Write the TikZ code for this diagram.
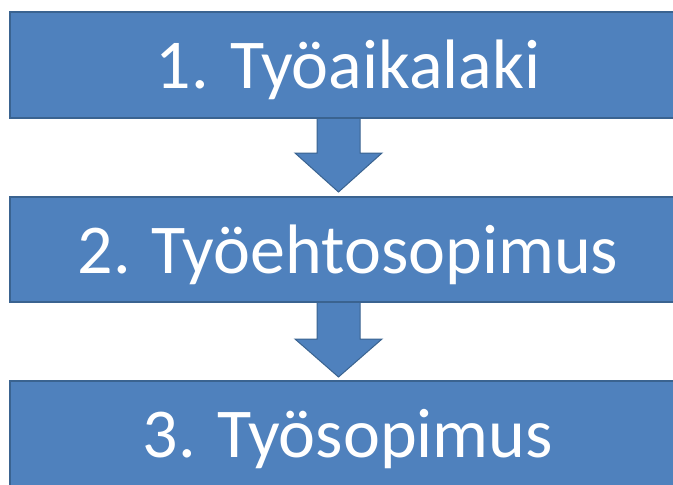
\documentclass[tikz,border=0pt]{standalone}
\usepackage{fontspec}
\setmainfont{Carlito}
\definecolor{boxfill}{HTML}{4F81BD}
\definecolor{boxline}{HTML}{3A6390}
\begin{document}
\begin{tikzpicture}[x=1pt,y=-1pt,
  stepbox/.style={draw=boxline,line width=1.3pt,fill=boxfill},
  steptext/.style={text=white,font=\fontsize{70}{70}\selectfont,inner sep=0pt,anchor=base},
  blockarrow/.style={draw=boxline,line width=1pt,fill=boxfill,line join=miter}]
\useasboundingbox (0,0) rectangle (673,485);
\clip (0,0) rectangle (673,485);
% arrows (behind boxes)
\draw[blockarrow] (317,112) -- (360,112) -- (360,153) -- (382,153) -- (338.5,192) -- (295,153) -- (317,153) -- cycle;
\draw[blockarrow] (317,297) -- (360,297) -- (360,339) -- (382,339) -- (338.5,377) -- (295,339) -- (317,339) -- cycle;
% boxes
\draw[stepbox] (10,12) rectangle (690,118);
\node[steptext] (t1) at (348,88) {1. Työaikalaki};
\draw[stepbox] (10,197) rectangle (690,302);
\node[steptext] (t2) at (348,273) {2. Työehtosopimus};
\draw[stepbox] (10,381) rectangle (690,500);
\node[steptext] (t3) at (348,457) {3. Työsopimus};
\end{tikzpicture}
\end{document}
